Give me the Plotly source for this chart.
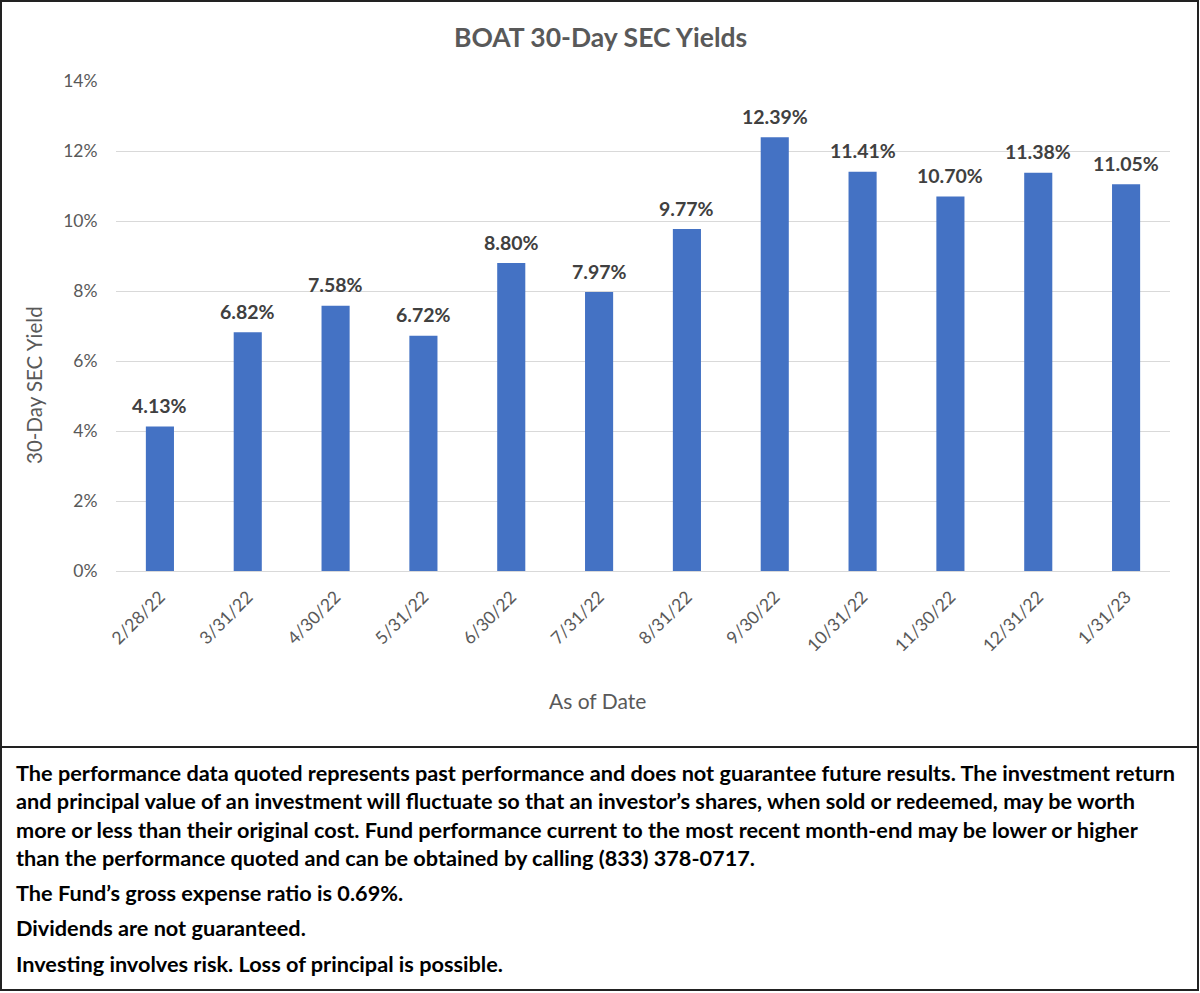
import plotly.graph_objects as go

dates = ["2/28/22", "3/31/22", "4/30/22", "5/31/22", "6/30/22", "7/31/22",
         "8/31/22", "9/30/22", "10/31/22", "11/30/22", "12/31/22", "1/31/23"]
yields = [4.13, 6.82, 7.58, 6.72, 8.80, 7.97, 9.77, 12.39, 11.41, 10.70, 11.38, 11.05]
y_ticks = [0, 2, 4, 6, 8, 10, 12, 14]
footer_lines = [
    "The performance data quoted represents past performance and does not guarantee future results. The investment return",
    "and principal value of an investment will fluctuate so that an investor\u2019s shares, when sold or redeemed, may be worth",
    "more or less than their original cost. Fund performance current to the most recent month-end may be lower or higher",
    "than the performance quoted and can be obtained by calling (833) 378-0717.",
    "The Fund\u2019s gross expense ratio is 0.69%.",
    "Dividends are not guaranteed.",
    "Investing involves risk. Loss of principal is possible.",
]
footer_y = [773, 801, 830, 858, 893, 928, 964]

W, H = 1200, 993
L, R, T, B = 116, 30, 81, 422
PW, PH = W - L - R, H - T - B

def px(x):
    return (x - L) / PW

def py(y):
    return (H - B - y) / PH

FONT = "Lato"
GREY = "#595959"

fig = go.Figure(go.Bar(
    x=dates, y=yields, width=0.32,
    marker=dict(color="#4472C4", line=dict(width=0)),
    cliponaxis=False,
))

shapes = [
    dict(type="rect", xref="paper", yref="paper", x0=px(1), x1=px(1198), y0=py(1), y1=py(990),
         line=dict(color="#222222", width=2), layer="above"),
    dict(type="line", xref="paper", yref="paper", x0=px(1), x1=px(1198), y0=py(747), y1=py(747),
         line=dict(color="#222222", width=2)),
]

annotations = []
for d, v in zip(dates, yields):
    annotations.append(dict(x=d, y=v, xref="x", yref="y", text=f"<b>{v:.2f}%</b>",
                            showarrow=False, xanchor="center", yanchor="middle", yshift=21,
                            font=dict(family=FONT, size=19.5, color="#404040")))

annotations += [
    dict(text="30-Day SEC Yield", xref="paper", yref="paper", x=px(34), y=py(385),
         xanchor="center", yanchor="middle",
         textangle=-90, showarrow=False, font=dict(family=FONT, size=20.5, color=GREY)),
    dict(text="As of Date", xref="paper", yref="paper", x=px(597), y=py(700),
         xanchor="center", yanchor="middle",
         showarrow=False, font=dict(family=FONT, size=21, color=GREY)),
    dict(text="<b>BOAT 30-Day SEC Yields</b>", xref="paper", yref="paper", x=px(600), y=py(37),
         xanchor="center", yanchor="middle",
         showarrow=False, font=dict(family=FONT, size=26.5, color=GREY)),
]
for line, yy in zip(footer_lines, footer_y):
    annotations.append(dict(text=f"<b>{line}</b>", xref="paper", yref="paper", x=px(14), y=py(yy),
                            xanchor="left", yanchor="middle", showarrow=False,
                            font=dict(family=FONT, size=21.7, color="#000000")))

fig.update_layout(
    width=W, height=H,
    margin=dict(l=L, r=R, t=T, b=B, autoexpand=False),
    paper_bgcolor="white", plot_bgcolor="white",
    showlegend=False,
    shapes=shapes, annotations=annotations,
    bargap=0.68,
)
fig.update_xaxes(tickangle=-45, tickfont=dict(family=FONT, size=17.5, color=GREY),
                 showline=False, ticks="outside", ticklen=8, tickcolor="rgba(0,0,0,0)",
                 showgrid=False)
fig.update_yaxes(range=[0, 14], tickvals=y_ticks, ticktext=[f"{t}%" for t in y_ticks],
                 tickfont=dict(family=FONT, size=17.5, color=GREY),
                 showgrid=True, gridcolor="#D9D9D9", gridwidth=1,
                 zeroline=True, zerolinecolor="#D9D9D9", zerolinewidth=1,
                 ticks="outside", ticklen=14, tickcolor="rgba(0,0,0,0)", showline=False)

fig.write_html("out.html")
